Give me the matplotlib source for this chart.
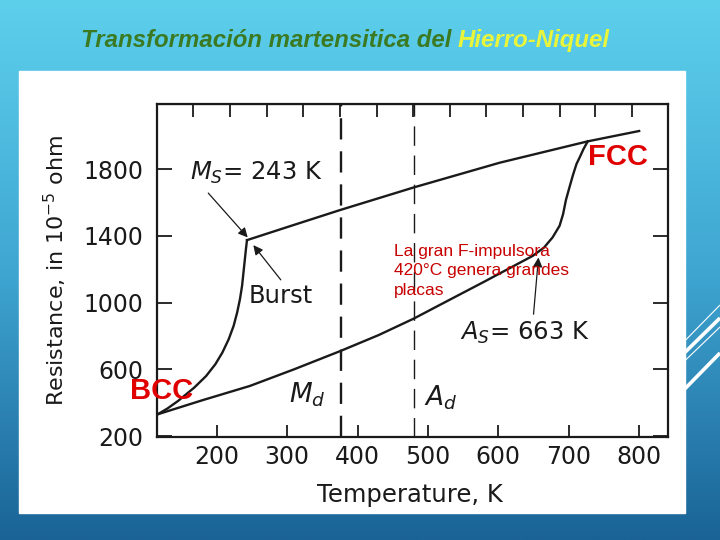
import numpy as np
import matplotlib
matplotlib.use("Agg")
import matplotlib.pyplot as plt
from matplotlib.colors import LinearSegmentedColormap

# curves: temperature (K) vs resistance (1e-5 ohm)
cool_T = [116, 130, 145, 168, 185, 198, 208, 217, 224, 229, 233, 236, 238, 240, 241.5, 243]
cool_R = [330, 365, 410, 490, 560, 630, 700, 780, 860, 940, 1020, 1100, 1180, 1260, 1320, 1374]

fcc_T = [243, 300, 375, 480, 602, 727, 800]
fcc_R = [1374, 1452, 1554, 1690, 1838, 1966, 2028]

heat_T = [116, 180, 247, 310, 376, 430, 480, 517, 580, 649, 665, 677,
          687, 692, 696, 701, 706, 711, 716, 721, 727]
heat_R = [330, 415, 500, 600, 710, 805, 904, 986, 1125, 1280, 1330, 1390,
          1460, 1530, 1614, 1690, 1764, 1830, 1874, 1920, 1966]

md_T = 376
ad_T = 480

x_ticks = [200, 300, 400, 500, 600, 700, 800]
y_ticks = [200, 600, 1000, 1400, 1800]
top_ticks = [166, 219, 271, 323, 375, 427, 479, 531, 583, 635, 687, 738, 790]

title_a = "Transformación martensitica del "
title_b = "Hierro-Niquel"
note = "La gran F-impulsora\n420°C genera grandes\nplacas"

fig = plt.figure(figsize=(7.2, 5.4), dpi=100)

# slide background
bg = fig.add_axes([0, 0, 1, 1])
bg.set_xlim(0, 720)
bg.set_ylim(540, 0)
bg.axis("off")
cmap = LinearSegmentedColormap.from_list("slide", ["#5dd0ec", "#3fa6d2", "#1a6397"])
grad = np.linspace(0, 1, 256).reshape(-1, 1)
bg.imshow(grad, cmap=cmap, aspect="auto", extent=(0, 720, 540, 0), zorder=0)
# decorative stripes on the right
for (y0, y1, lw) in [(341, 305, 0.8), (352, 318, 2.6), (360, 327, 0.8), (389, 353, 2.6)]:
    bg.plot([670, 720], [y0 + 15, y1], color="white", lw=lw, zorder=1,
            solid_capstyle="butt")
bg.add_patch(plt.Rectangle((19, 71), 666, 442, color="white", zorder=2))

# title in two colours
t1 = fig.text(80.7 / 720, 1 - 46.7 / 540, title_a, fontsize=17.3, style="italic",
              weight="bold", color="#3b7a22", family="Liberation Sans", va="baseline")
fig.canvas.draw()
bb = t1.get_window_extent()
fig.text(bb.x1 / 720, 1 - 46.7 / 540, title_b, fontsize=17.3, style="italic",
         weight="bold", color="#e9f53a", family="Liberation Sans", va="baseline")

# chart
ax = fig.add_axes([157.3 / 720, 1 - 436.7 / 540, 510.7 / 720, 332.4 / 540])
ax.set_xlim(115.6, 841)
ax.set_ylim(196, 2188)

ink = "#1a1a1a"
ax.plot(cool_T, cool_R, color=ink, lw=1.7)
ax.plot(fcc_T, fcc_R, color=ink, lw=1.7)
ax.plot(heat_T, heat_R, color=ink, lw=1.7)
ax.axvline(md_T, color=ink, lw=1.7, dashes=(9, 5))
ax.axvline(ad_T, color=ink, lw=1.0, dashes=(14, 7))

for s in ax.spines.values():
    s.set_linewidth(1.6)
    s.set_color(ink)

ax.set_xticks(x_ticks)
ax.set_yticks(y_ticks)
ax.tick_params(axis="x", direction="in", length=9, width=1.3, labelsize=17,
               pad=6, colors=ink)
ax.tick_params(axis="y", direction="in", length=11, width=1.3, labelsize=17,
               pad=10, right=True, colors=ink)
top = ax.secondary_xaxis("top")
top.set_xticks(top_ticks)
top.tick_params(direction="in", length=9, width=1.3, labeltop=False, colors=ink)

ax.set_xlabel("Temperature, K", fontsize=17.5, color=ink)
ax.xaxis.set_label_coords(0.495, -0.139)
ax.set_ylabel("Resistance, in 10$^{-5}$ ohm", fontsize=16, color=ink)
ax.yaxis.set_label_coords(-0.172, 0.5)

# annotations
ax.text(162, 1776, "$M_S$= 243 K", fontsize=17.5, color=ink, va="center")
ax.text(246, 1040, "Burst", fontsize=17.5, color=ink, va="center")
ax.text(302, 450, "$M_d$", fontsize=19, color=ink, va="center")
ax.text(495, 432, "$A_d$", fontsize=19, color=ink, va="center")
ax.text(545, 820, "$A_S$= 663 K", fontsize=17.5, color=ink, va="center")

arrow = dict(arrowstyle="-|>", lw=0.9, color=ink, mutation_scale=14,
             shrinkA=0, shrinkB=0)
ax.annotate("", xy=(244, 1390), xytext=(188, 1656), arrowprops=arrow)
ax.annotate("", xy=(252, 1344), xytext=(291, 1136), arrowprops=arrow)
ax.annotate("", xy=(657, 1270), xytext=(650, 930), arrowprops=arrow)

ax.text(727, 1870, "FCC", fontsize=21, weight="bold", color="#e00000",
        family="Liberation Sans", va="center")
ax.text(77, 468, "BCC", fontsize=21, weight="bold", color="#e00000",
        family="Liberation Sans", va="center", clip_on=False)
ax.text(451.5, 1352, note, fontsize=12.5, color="#c80000",
        family="Liberation Sans", va="top", linespacing=1.38)

fig.savefig("out.png", dpi=100)
